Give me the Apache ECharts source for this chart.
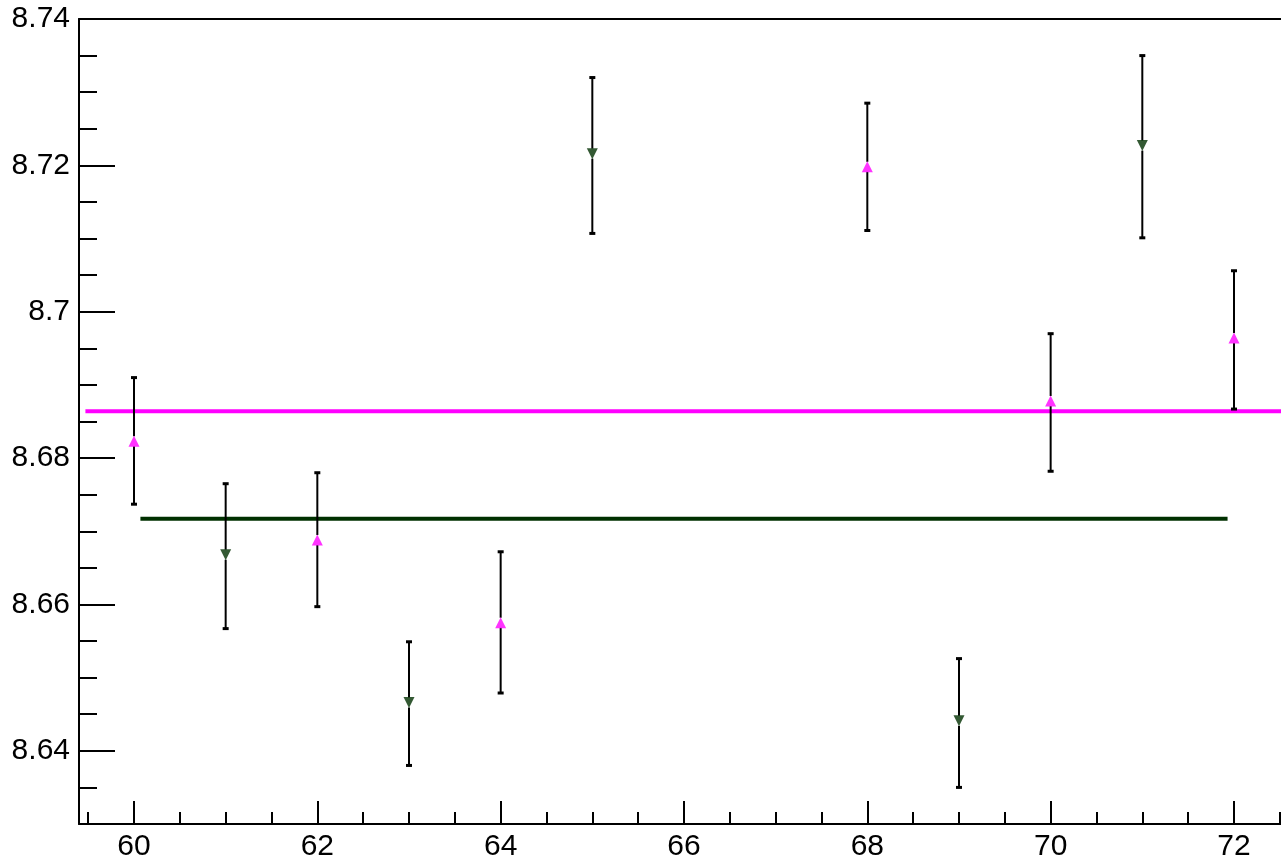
<!DOCTYPE html>
<html>
<head>
<meta charset="utf-8">
<script src="https://cdn.jsdelivr.net/npm/echarts@6/dist/echarts.min.js"></script>
<style>html,body{margin:0;padding:0;background:#fff;}#c{width:1281px;height:862px;}</style>
</head>
<body>
<div id="c"></div>
<script>
// ---- data ----
const magentaX = [60, 62, 64, 68, 70, 72];
const magentaY = [8.6823, 8.6688, 8.6575, 8.7198, 8.6878, 8.6964];
const magentaLo = [8.6737, 8.6597, 8.6479, 8.7111, 8.6782, 8.6867];
const magentaHi = [8.6910, 8.6780, 8.6672, 8.7285, 8.6970, 8.7056];

const greenX = [61, 63, 65, 69, 71];
const greenY = [8.6668, 8.6466, 8.7216, 8.6441, 8.7227];
const greenLo = [8.6567, 8.6380, 8.7107, 8.6350, 8.7101];
const greenHi = [8.6765, 8.6549, 8.7320, 8.6526, 8.7350];

const magentaFit = { level: 8.6864, from: 59.47, to: 72.513 };
const greenFit = { level: 8.6717, from: 60.07, to: 71.93 };

const xMajorTicks = [60, 62, 64, 66, 68, 70, 72];
const xMinorTicks = [59.5, 60.5, 61, 61.5, 62.5, 63, 63.5, 64.5, 65, 65.5, 66.5, 67, 67.5, 68.5, 69, 69.5, 70.5, 71, 71.5, 72.5];
const yMajorTicks = [8.64, 8.66, 8.68, 8.70, 8.72, 8.74];
const yMinorTicks = [8.635, 8.645, 8.65, 8.655, 8.665, 8.67, 8.675, 8.685, 8.69, 8.695, 8.705, 8.71, 8.715, 8.725, 8.73, 8.735];

const X_MIN = 59.4, X_MAX = 72.513, Y_MIN = 8.63, Y_MAX = 8.74;

// ---- chart ----
const MAGENTA = '#ff00ff';
const GREEN = '#003000';
const FONT = '"Liberation Sans", Arial, sans-serif';

const errData = [];
magentaX.forEach((x, i) => errData.push([x, magentaY[i], magentaLo[i], magentaHi[i]]));
greenX.forEach((x, i) => errData.push([x, greenY[i], greenLo[i], greenHi[i]]));

function renderErr(params, api) {
  const x = api.value(0);
  const c = api.coord([x, api.value(1)]);
  const lo = api.coord([x, api.value(2)]);
  const hi = api.coord([x, api.value(3)]);
  const st = { stroke: '#000', lineWidth: 2 };
  const cap = { stroke: '#000', lineWidth: 3 };
  return {
    type: 'group',
    children: [
      { type: 'line', shape: { x1: c[0], y1: hi[1], x2: c[0], y2: c[1] - 5 }, style: st },
      { type: 'line', shape: { x1: c[0], y1: c[1] + 5, x2: c[0], y2: lo[1] }, style: st },
      { type: 'line', shape: { x1: c[0] - 3, y1: hi[1], x2: c[0] + 3, y2: hi[1] }, style: cap },
      { type: 'line', shape: { x1: c[0] - 3, y1: lo[1], x2: c[0] + 3, y2: lo[1] }, style: cap }
    ]
  };
}

const axisLabelStyle = { color: '#000', fontSize: 30, fontFamily: FONT };

const option = {
  animation: false,
  backgroundColor: '#fff',
  grid: { left: 79, top: 19, right: 0, height: 806, containLabel: false },
  xAxis: [
    {
      type: 'value', position: 'bottom', min: X_MIN, max: X_MAX,
      axisLine: { show: true, onZero: false, lineStyle: { color: '#000', width: 2 } },
      axisTick: { show: true, inside: true, length: 23, customValues: xMajorTicks, lineStyle: { color: '#000', width: 2 } },
      axisLabel: { show: true, margin: 8, customValues: xMajorTicks, formatter: v => String(Math.round(v)), ...axisLabelStyle },
      splitLine: { show: false }
    },
    {
      type: 'value', position: 'bottom', min: X_MIN, max: X_MAX,
      axisLine: { show: false },
      axisTick: { show: true, inside: true, length: 12, customValues: xMinorTicks, lineStyle: { color: '#000', width: 2 } },
      axisLabel: { show: false },
      splitLine: { show: false }
    },
    {
      type: 'value', position: 'top', min: X_MIN, max: X_MAX,
      axisLine: { show: true, onZero: false, lineStyle: { color: '#000', width: 2 } },
      axisTick: { show: false }, axisLabel: { show: false }, splitLine: { show: false }
    }
  ],
  yAxis: [
    {
      type: 'value', position: 'left', min: Y_MIN, max: Y_MAX,
      axisLine: { show: true, onZero: false, lineStyle: { color: '#000', width: 2 } },
      axisTick: { show: true, inside: true, length: 36, customValues: yMajorTicks, lineStyle: { color: '#000', width: 2 } },
      axisLabel: { show: true, margin: 9, customValues: yMajorTicks, formatter: v => String(+(+v).toFixed(2)), ...axisLabelStyle },
      splitLine: { show: false }
    },
    {
      type: 'value', position: 'left', min: Y_MIN, max: Y_MAX,
      axisLine: { show: false },
      axisTick: { show: true, inside: true, length: 18, customValues: yMinorTicks, lineStyle: { color: '#000', width: 2 } },
      axisLabel: { show: false },
      splitLine: { show: false }
    }
  ],
  series: [
    {
      type: 'line', xAxisIndex: 0, yAxisIndex: 0, symbol: 'none', silent: true,
      data: [[magentaFit.from, magentaFit.level], [magentaFit.to, magentaFit.level]],
      lineStyle: { color: MAGENTA, width: 4 }, z: 2
    },
    {
      type: 'line', xAxisIndex: 0, yAxisIndex: 0, symbol: 'none', silent: true,
      data: [[greenFit.from, greenFit.level], [greenFit.to, greenFit.level]],
      lineStyle: { color: GREEN, width: 4 }, z: 2
    },
    {
      type: 'custom', xAxisIndex: 0, yAxisIndex: 0, renderItem: renderErr,
      data: errData, z: 3, clip: false
    },
    {
      type: 'scatter', xAxisIndex: 0, yAxisIndex: 0, symbol: 'triangle', symbolSize: [11, 11],
      itemStyle: { color: MAGENTA }, z: 4,
      data: magentaX.map((x, i) => [x, magentaY[i]])
    },
    {
      type: 'scatter', xAxisIndex: 0, yAxisIndex: 0, symbol: 'triangle', symbolSize: [11, 11], symbolRotate: 180,
      itemStyle: { color: GREEN }, z: 4,
      data: greenX.map((x, i) => [x, greenY[i]])
    }
  ]
};

const chart = echarts.init(document.getElementById('c'), null, { renderer: 'canvas' });
chart.setOption(option);
</script>
</body>
</html>
